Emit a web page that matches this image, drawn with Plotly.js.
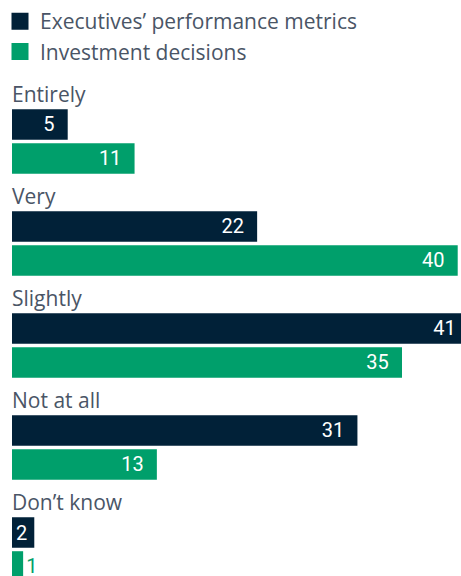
<!DOCTYPE html>
<html>
<head>
<meta charset="utf-8">
<script src="https://cdn.plot.ly/plotly-3.0.1.min.js"></script>
<style>
html,body{margin:0;padding:0;overflow:hidden;background:#fff;}
#chart{width:480px;height:576px;}
</style>
</head>
<body>
<div id="chart"></div>
<script>
var categories = ["Entirely", "Very", "Slightly", "Not at all", "Don\u2019t know"];
var executives = [5, 22, 41, 31, 2];
var investment = [11, 40, 35, 13, 1];
var seriesNames = ["Executives\u2019 performance metrics", "Investment decisions"];

var navy = "#012138";
var green = "#009f6b";
var grey = "#4a5566";
var idx = categories.map(function(_, i){ return i; });

var traces = [
  {
    type: "bar", orientation: "h", x: executives, y: idx,
    offset: -0.316, width: 0.299,
    marker: {color: navy}, showlegend: false, hoverinfo: "skip",
    texttemplate: executives.map(function(v){ return v < 4 ? "%{x}\u2009" : "%{x}\u2002"; }),
    textposition: "inside", insidetextanchor: "end",
    insidetextfont: {family: "Roboto", size: 20, color: "#ffffff"},
    constraintext: "none", cliponaxis: false
  },
  {
    type: "bar", orientation: "h", x: investment, y: idx,
    offset: 0.017, width: 0.299,
    marker: {color: green}, showlegend: false, hoverinfo: "skip",
    texttemplate: investment.map(function(v){ return v < 4 ? "%{x}" : "%{x}\u2002"; }),
    textposition: investment.map(function(v){ return v < 4 ? "outside" : "inside"; }),
    insidetextanchor: "end",
    insidetextfont: {family: "Roboto", size: 20, color: "#ffffff"},
    outsidetextfont: {family: "Roboto", size: 20, color: green},
    constraintext: "none", cliponaxis: false
  },
  {
    type: "bar", orientation: "h", x: [null], y: [null], name: seriesNames[0],
    legendgroup: "a",
    marker: {color: navy, line: {color: navy, width: 5}}, hoverinfo: "skip"
  },
  {
    type: "bar", orientation: "h", x: [null], y: [null], name: seriesNames[1],
    legendgroup: "b",
    marker: {color: green, line: {color: green, width: 5}}, hoverinfo: "skip"
  }
];

var annotations = categories.map(function(c, i){
  return {
    text: c, xref: "paper", yref: "y", x: 0, y: i - 0.47, xshift: -2,
    xanchor: "left", yanchor: "middle", showarrow: false,
    font: {family: "Open Sans", size: 21, color: grey}
  };
});

var layout = {
  width: 480, height: 576,
  margin: {l: 12, r: 0, t: 0, b: 0, pad: 0, autoexpand: false},
  paper_bgcolor: "#ffffff", plot_bgcolor: "#ffffff",
  barmode: "overlay",
  xaxis: {range: [0, 42], visible: false, fixedrange: true},
  yaxis: {range: [4.26, -1.387], visible: false, fixedrange: true},
  showlegend: true,
  legend: {
    xref: "container", yref: "container", x: 0, y: 1 - 1 / 576,
    xanchor: "left", yanchor: "top", tracegroupgap: 0,
    font: {family: "Open Sans", size: 21, color: grey},
    bgcolor: "rgba(0,0,0,0)", borderwidth: 0
  },
  annotations: annotations
};

Plotly.newPlot("chart", traces, layout, {displayModeBar: false, staticPlot: true});
</script>
</body>
</html>
